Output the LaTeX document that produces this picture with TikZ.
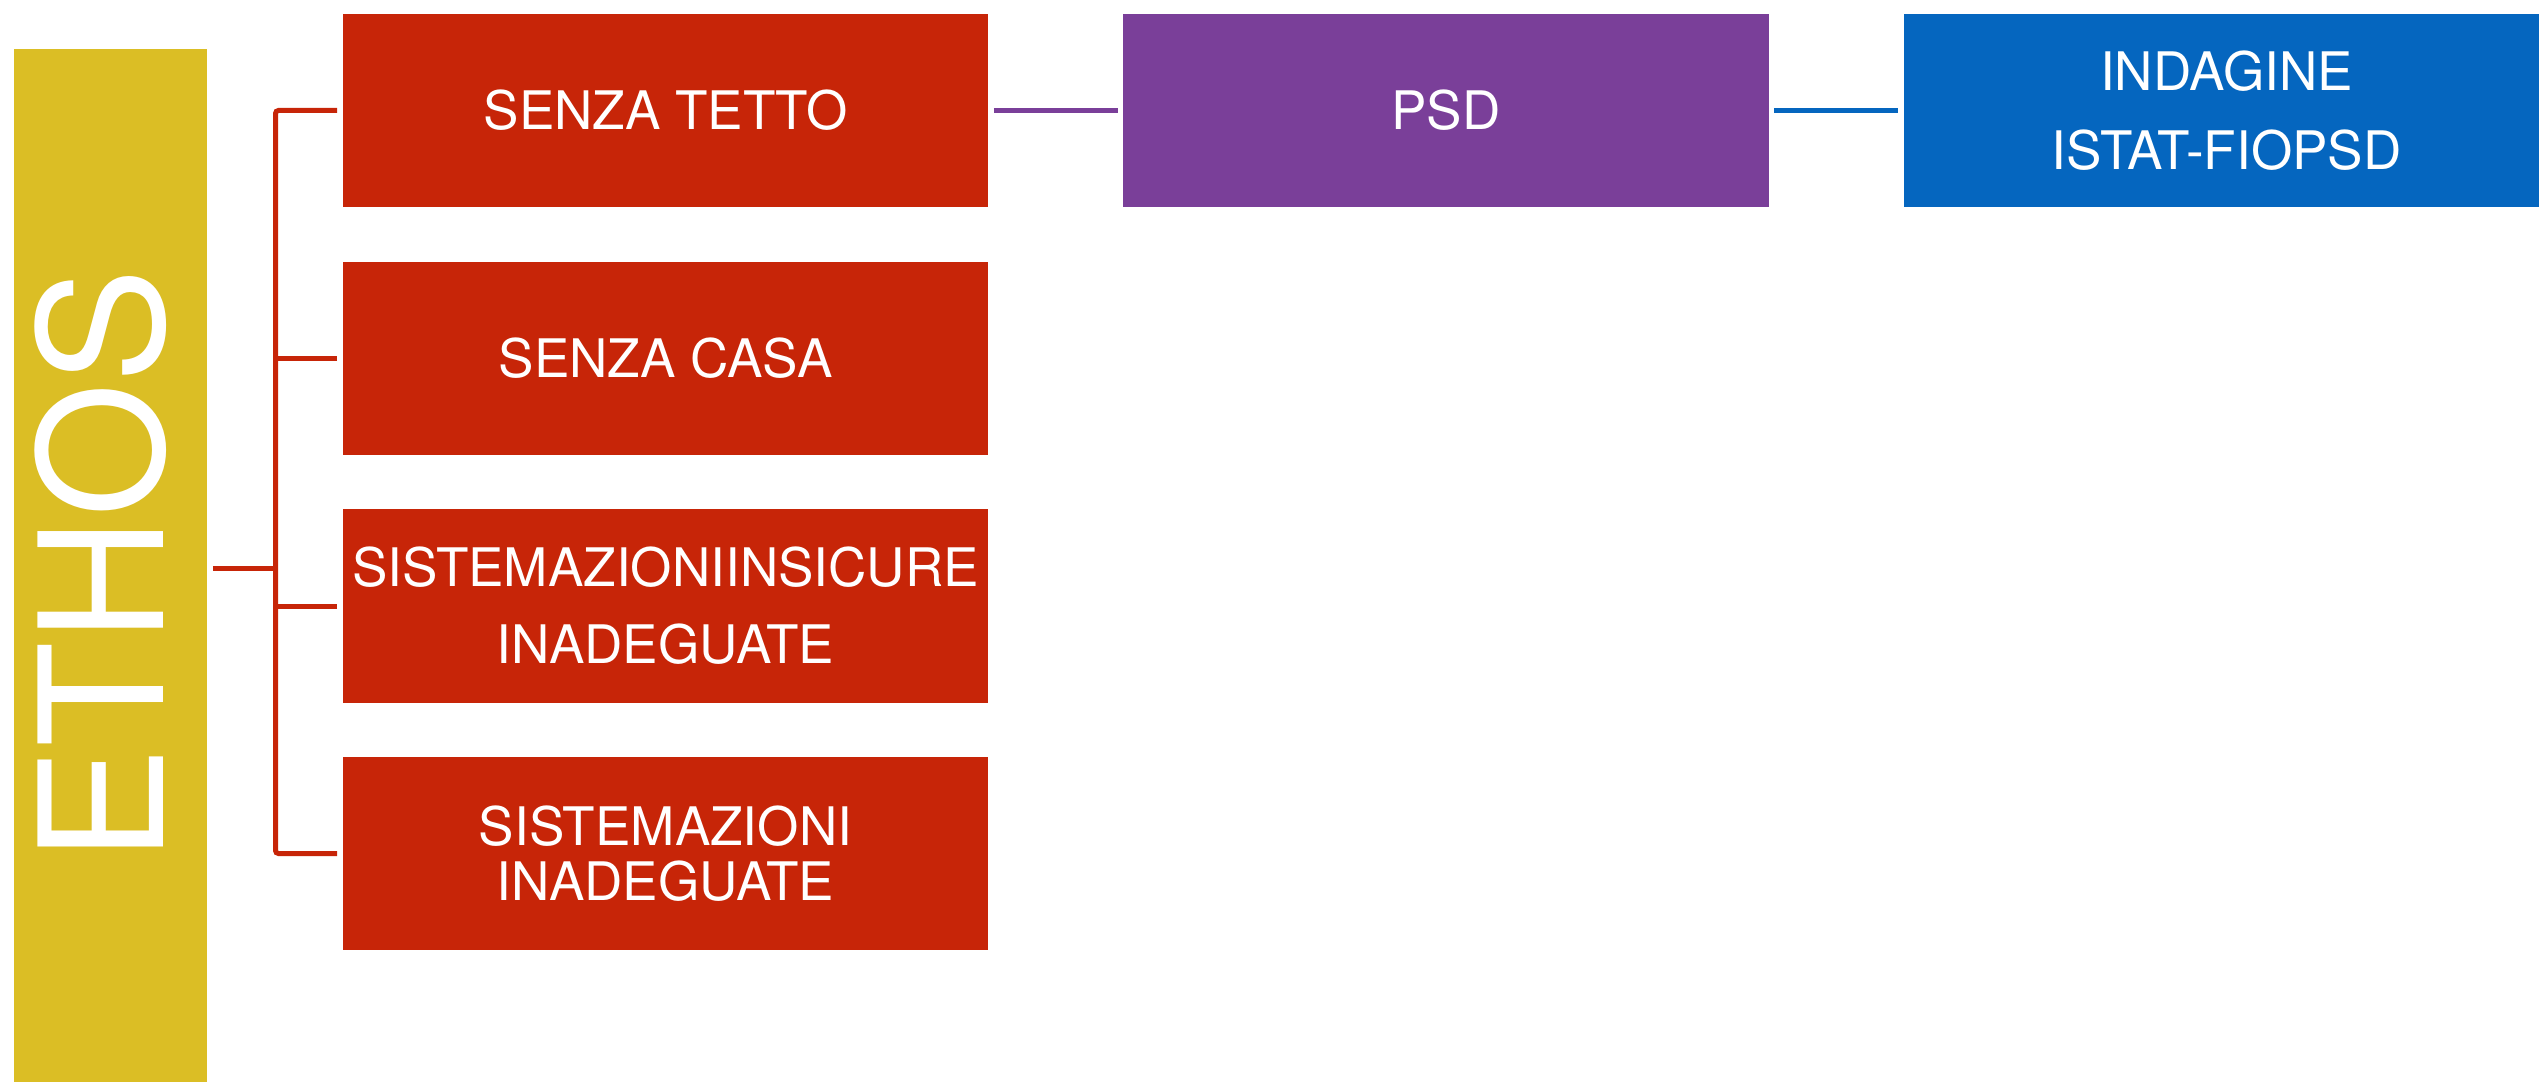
\documentclass[tikz,border=0pt]{standalone}
\usepackage{fontspec}
\setmainfont{TeX Gyre Heros}
\definecolor{ethosyellow}{HTML}{DBBE25}
\definecolor{boxred}{HTML}{C72508}
\definecolor{boxpurple}{HTML}{7A3F99}
\definecolor{boxblue}{HTML}{0566BF}
\tikzset{
  catbox/.style={rectangle, fill=#1, draw=none, inner sep=0pt, text=white,
    minimum width=6.45cm, minimum height=1.93cm, align=center,
    font=\fontsize{15.1}{21.9}\selectfont},
  conn/.style={draw=#1, line width=0.05cm},
}
\begin{document}
\begin{tikzpicture}[x=0.01cm, y=-0.01cm]
\path[use as bounding box, clip] (0,0) rectangle (2539,1082);
% ETHOS
\node[rectangle, fill=ethosyellow, inner sep=0pt, minimum width=1.93cm, minimum height=10.38cm] (ethos) at (110.5,568) {};
\node[text=white, rotate=90, anchor=base, inner sep=0pt, font=\fontsize{49}{58}\selectfont] (ethostext) at (163,565.5) {ETHOS};
% red boxes
\node[catbox=boxred] (b1) at (665.5,110.5) {SENZA TETTO};
\node[catbox=boxred] (b2) at (665.5,358.5) {SENZA CASA};
\node[catbox=boxred] (b3) at (665.5,606) {SISTEMAZIONIINSICURE\\INADEGUATE};
\node[catbox=boxred, font=\fontsize{15.1}{15.65}\selectfont] (b4) at (665.5,853.5) {SISTEMAZIONI\\INADEGUATE};
% PSD and survey
\node[catbox=boxpurple] (psd) at (1446,110.5) {PSD};
\node[catbox=boxblue, font=\fontsize{15.1}{22.5}\selectfont] (ind) at (2226.5,110.5) {INDAGINE\\ISTAT-FIOPSD};
% bracket
\coordinate (bus) at (275.5,568);
\draw[conn=boxred] ([xshift=0.05cm]ethos.east) -- (ethos.east -| bus);
\draw[conn=boxred, rounded corners=0.03cm] ([xshift=-0.05cm]b1.west) -- (b1.west -| bus) -- (b4.west -| bus) -- ([xshift=-0.05cm]b4.west);
\draw[conn=boxred] ([xshift=-0.05cm]b2.west) -- (b2.west -| bus);
\draw[conn=boxred] ([xshift=-0.05cm]b3.west) -- (b3.west -| bus);
% horizontal links
\draw[conn=boxpurple] ([xshift=0.05cm]b1.east) -- ([xshift=-0.05cm]psd.west);
\draw[conn=boxblue] ([xshift=0.05cm]psd.east) -- ([xshift=-0.05cm]ind.west);
\end{tikzpicture}
\end{document}
